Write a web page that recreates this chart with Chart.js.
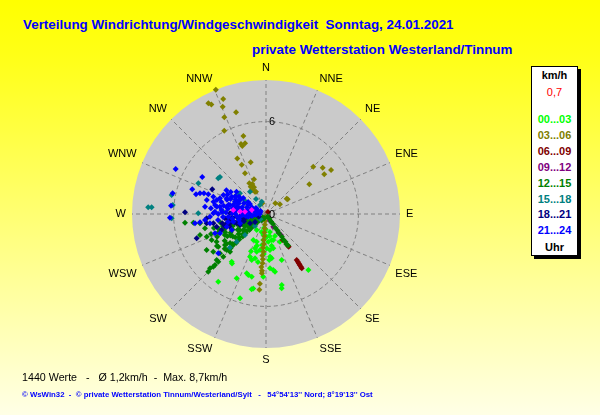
<!DOCTYPE html>
<html lang="de">
<head>
<meta charset="utf-8">
<title>Verteilung Windrichtung/Windgeschwindigkeit</title>
<script src="https://cdn.jsdelivr.net/npm/chart.js@4.4.1/dist/chart.umd.min.js"></script>
<style>
    html, body { margin: 0; padding: 0; }
    body {
        width: 600px; height: 415px; overflow: hidden; position: relative;
        background: linear-gradient(to bottom, #ffff00 0%, #ffff18 14%, #ffffe6 100%);
        font-family: "Liberation Sans", Arial, sans-serif;
    }
    .txt { position: absolute; white-space: pre; line-height: 16px; }
    .title { color: #0000ff; font-weight: bold; font-size: 13.4px; }
    #rose { position: absolute; left: 100px; top: 55px; }
    #legendBox {
        position: absolute; left: 531px; top: 66px; width: 47px; height: 190px;
        box-sizing: border-box; background: #fff; border: 1px solid #000;
        box-shadow: 3px 3px 0 #000;
    }
    .leg { position: absolute; left: 531px; width: 47px; text-align: center;
        font-size: 11px; font-weight: bold; line-height: 13px; }
    .foot1 { font-size: 10.7px; color: #000; line-height: 13px; }
    .foot2 { font-size: 7.8px; font-weight: bold; color: #0000ff; line-height: 9px; }
</style>
</head>
<body>
<div class="txt title" style="left:23px; top:17px;">Verteilung Windrichtung/Windgeschwindigkeit  Sonntag, 24.01.2021</div>
<div class="txt title" style="left:252px; top:42px;">private Wetterstation Westerland/Tinnum</div>
<canvas id="rose" width="332" height="318"></canvas>
<div id="legendBox"></div>
<div class="txt foot1" style="left:22px; top:371px;">1440 Werte   -   Ø 1,2km/h  -  Max. 8,7km/h</div>
<div class="txt foot2" style="left:22px; top:390px;">© WsWin32  -  © private Wetterstation Tinnum/Westerland/Sylt   -   54°54'13'' Nord; 8°19'13'' Ost</div>
<script>
const compassLabels = ['N', 'NNE', 'NE', 'ENE', 'E', 'ESE', 'SE', 'SSE',
    'S', 'SSW', 'SW', 'WSW', 'W', 'WNW', 'NW', 'NNW'];
const ringTicks = [0, 6];
const speedMax = 8.7;
const timeBins = ['00...03', '03...06', '06...09', '09...12', '12...15', '15...18', '18...21', '21...24'];
const binColors = ['#00ff00', '#808000', '#800000', '#800080', '#008000', '#008080', '#000080', '#0000ff'];

// [Richtung in Grad, Geschwindigkeit km/h]
const wind0003 = [[206, 1.88], [198.6, 1.9], [187.3, 1.38], [182.4, 1.58], [178.2, 1.47], [197.8, 2.34],
    [193.9, 2.52], [200.5, 2.96], [197.3, 3.13], [193.9, 2.96], [178.8, 2.23], [173.7, 2.35], [174.6, 2.79],
    [172.7, 2.9], [164.3, 1.75], [153.2, 2.01], [161.2, 3.16], [175.8, 3.53], [172.6, 3.67], [171.1, 3.79],
    [182.5, 4.08], [196.2, 4.12], [192.8, 4.18], [204.5, 4.59], [215.7, 3.82], [214.5, 3.9], [189.7, 4.9],
    [197.1, 5.73], [167.5, 4.72], [168.1, 4.93], [142.9, 4.56], [215.2, 5.38], [190.8, 4.97], [185.9, 1.69],
    [175.3, 1.81], [167.6, 1.73], [168, 2.28], [189.5, 2.37], [210.2, 1.2], [188.1, 0.92], [167.5, 1.19],
    [187.4, 2.03], [157.8, 1.55], [189.5, 3.16], [198, 4.05], [202, 2.6], [176, 3.0], [194, 1.2],
    [181, 1.0], [171, 1.45], [196, 2.15], [183, 2.6], [170, 2.1]];
const wind0306 = [[338, 8.7], [332.5, 8.1], [333.5, 7.95], [339.6, 7.97], [338, 7.51], [343.6, 6.88],
    [336.7, 6.84], [333.4, 6.05], [343.8, 5.27], [340.3, 4.82], [340.8, 4.68], [343.5, 4.79], [332.6, 4.05],
    [333.8, 3.57], [343.5, 3.5], [332.7, 2.97], [340.9, 2.38], [335.5, 2.14], [335.8, 1.9], [335.8, 1.58],
    [331.5, 2.27], [330.7, 2.03], [331, 1.78], [333.7, 1.62], [341, 0.73],
    [53.5, 1.67], [55.9, 1.7], [41, 0.92], [55.3, 1.1], [55.6, 3.41], [45, 4.34], [50.8, 4.75], [55.7, 4.58],
    [55.9, 5.1],
    [192, 0.2], [187, 0.45], [186, 0.7], [185, 0.95], [185, 1.2], [184, 1.45], [185, 1.7], [184, 1.95],
    [185, 2.2], [184, 2.45], [185, 2.7], [184, 2.95], [184, 3.2], [185, 3.45], [184, 3.7], [184, 3.85],
    [185, 4.55], [185, 4.94]];
const wind0609 = [[45, 0.18], [147.3, 2.01], [145.5, 2.48], [145.2, 2.58], [146.3, 3.59], [146.4, 3.73],
    [146.4, 3.86], [146.5, 3.97], [146.5, 4.1], [146.6, 4.22]];
const wind0912 = [[150, 0.5], [150.1, 0.95], [146, 1.45], [144.5, 1.68]];
const wind1215 = [[263.9, 5.29], [263.2, 4.75], [262, 4.33], [256.8, 4.07], [252.3, 4.5], [249, 4.12],
    [244.4, 3.91], [240.7, 3.68], [238.7, 4.51], [234.4, 4.21], [235.6, 3.75], [232.9, 3.34], [229.5, 3.93],
    [225, 3.92], [227, 4.38], [225, 4.38], [225, 4.68], [225, 4.84], [225.9, 5.06], [225, 5.3], [227.5, 3.46],
    [223.7, 3.38],
    [226, 0.3], [226, 0.6], [226, 0.9], [226.5, 1.2], [226, 1.5], [226.5, 1.8], [226, 2.1], [226.5, 2.4],
    [226, 2.7], [226.5, 3.0], [226, 3.2],
    [230, 0.6], [236, 0.9], [242, 0.7], [248, 1.0], [254, 0.8], [232, 1.4], [238, 1.2], [244, 1.5], [250, 1.3],
    [256, 1.6], [229, 2.0], [235, 1.8], [241, 2.1], [247, 1.9], [253, 2.2], [233, 2.5], [239, 2.7], [245, 2.4],
    [251, 2.8], [231, 3.0], [237, 3.2], [243, 3.0], [249, 3.3], [234, 2.2], [240, 1.6], [246, 2.9], [257, 2.5],
    [259, 3.0], [200, 0.3], [215, 0.5],
    [233, 0.5], [248, 0.5], [228, 0.8], [239, 0.8], [251, 0.8], [231, 1.1], [245, 1.1], [227, 1.4], [238, 1.4],
    [252, 1.4], [230, 1.7], [248, 1.7], [238, 2.0], [252, 2.0], [229, 2.3], [250, 2.3], [236, 2.6], [242, 2.6],
    [228, 2.9], [240, 2.9], [254, 2.9], [233, 3.2], [252, 3.2], [230, 3.5], [245, 3.5], [255, 3.5], [237, 3.8],
    [250, 3.8],
    [146, 0.2], [145, 0.4], [146, 0.6], [145, 0.8], [146, 1.1], [145, 1.3], [146, 1.5], [145, 1.8], [146, 2.0],
    [145, 2.2], [146, 2.35], [145, 2.5]];
const wind1518 = [[273.3, 7.66], [273.4, 7.44], [281.4, 6.25], [275.5, 6.08], [267.4, 6.13], [294.4, 4.82],
    [306.8, 3.87], [308.8, 3.83], [308.5, 2.16], [303, 2.27], [324.3, 1.78], [340.7, 0.84], [326.3, 0.7],
    [273.1, 2.78], [270.6, 4.4], [226.6, 2.62], [301.8, 1.6], [222.5, 1.06], [225, 1.93],
    [326.3, 1.17], [227, 0.5], [227, 3.2]];
const wind1821 = [[294.7, 3.84], [271.2, 5.26], [250.7, 4.77], [261.1, 3.9], [265.9, 3.86], [260, 3.47],
    [255.6, 3.31], [255.5, 2.42], [264.7, 1.91], [258.4, 1.39], [271.1, 2.34], [264, 2.68], [234, 0.88],
    [262.9, 1.05], [247, 1.83], [250.1, 3.06], [250, 0.5], [240, 1.2], [255, 2.1], [268, 1.6], [258, 2.9],
    [252, 1.5], [257, 1.6], [262, 1.8], [253, 2.0], [259, 2.3], [264, 2.2], [251, 2.5], [257, 2.6], [263, 2.5],
    [254, 2.8]];
const wind2124 = [[296.5, 6.55], [300.2, 4.79], [288.5, 5.05], [287.4, 4.49], [288.5, 4.25], [288.9, 3.96],
    [288.2, 3.6], [282.5, 6.21], [283.3, 3.95], [285.9, 3.32], [288.8, 3.16], [275, 6.19], [267.8, 6.24],
    [285.7, 4.72], [294, 3.03], [291.8, 2.75], [296.8, 2.49], [291.6, 2.17], [278.4, 3.23], [270.8, 3.42],
    [267.2, 3.64], [272.6, 3.32], [279, 3.03], [280.5, 2.6], [284, 1.96], [282.4, 1.73], [275.8, 1.48],
    [281.7, 1.28], [287.5, 0.86], [262.8, 4.32], [262.5, 4.65], [264.4, 3.98], [260.6, 3.69], [230.5, 4.01],
    [247.2, 3.24], [252.1, 2.68], [264, 1.69], [271.3, 2.01], [265.9, 2.45], [261.3, 1.16], [256.8, 2.18],
    [250.3, 1.79], [302, 1.23], [298.3, 1.92], [284, 2.41], [272.6, 2.86], [301, 0.76], [267.3, 1.36],
    [262.9, 3.14], [258.1, 2.52], [282, 1.86], [276.8, 3.99], [280, 3.36], [245, 2.45], [249.3, 3.54],
    [270, 0.6], [262, 0.9], [295, 1.0], [290, 1.3], [268, 1.5], [296, 1.6], [276, 2.0], [262, 2.2], [300, 2.3],
    [272, 2.6], [266, 2.8], [285, 3.0], [278, 1.1], [285, 0.5], [258, 1.8], [290, 2.7], [275, 2.9], [280, 2.2],
    [292, 2.0], [270, 3.1], [283, 3.5], [276, 3.6], [301, 3.0], [307, 2.4], [305, 1.8],
    [270, 0.4], [285, 0.4], [298, 0.4], [266, 0.7], [276, 0.7], [288, 0.7], [299, 0.7], [268, 1.0], [283, 1.0],
    [292, 1.0], [264, 1.3], [273, 1.3], [298, 1.3], [276, 1.6], [286, 1.6], [266, 1.9], [291, 1.9], [300, 1.9],
    [271, 2.2], [286, 2.2], [296, 2.2], [278, 2.5], [284, 2.5], [293, 2.5], [281, 2.8], [297, 2.8], [304, 1.4],
    [303, 2.1], [302, 2.7]];
const windMarked = [[277, 2.14], [276.3, 1.37], [285.6, 0.96], [275.6, 1.69]];

const binData = [wind0003, wind0306, wind0609, wind0912, wind1215, wind1518, wind1821, wind2124];

document.addEventListener('DOMContentLoaded', () => {
    // Legende rechts
    const legendItems = [['km/h', '#000', 75], ['0,7', '#ff0000', 92]];
    timeBins.forEach((label, i) => legendItems.push([label, binColors[i], 119.5 + i * 15.9]));
    legendItems.push(['Uhr', '#000', 247]);
    legendItems.forEach(([text, color, y], i) => {
        const el = document.createElement('div');
        el.className = 'leg';
        el.textContent = text;
        el.style.color = color;
        el.style.top = (y - 6.5) + 'px';
        if (i === 1) el.style.fontWeight = 'normal';
        document.body.appendChild(el);
    });

    const toXY = ([dir, speed]) => ({
        x: speed * Math.sin(dir * Math.PI / 180),
        y: speed * Math.cos(dir * Math.PI / 180)
    });

    const roseGrid = {
        id: 'roseGrid',
        beforeDatasetsDraw(chart) {
            const { ctx, scales: { x, y } } = chart;
            const cx = x.getPixelForValue(0);
            const cy = y.getPixelForValue(0);
            const rOf = v => x.getPixelForValue(v) - cx;
            const R = rOf(speedMax);
            ctx.save();
            ctx.beginPath();
            ctx.arc(cx, cy, R, 0, Math.PI * 2);
            ctx.fillStyle = '#cacaca';
            ctx.fill();

            ctx.strokeStyle = '#808080';
            ctx.lineWidth = 1;
            ctx.setLineDash([4, 3]);
            ringTicks.filter(t => t > 0).forEach(t => {
                ctx.beginPath();
                ctx.arc(cx, cy, rOf(t), 0, Math.PI * 2);
                ctx.stroke();
            });
            compassLabels.forEach((lbl, i) => {
                const a = i * Math.PI / 8;
                ctx.beginPath();
                ctx.moveTo(cx, cy);
                ctx.lineTo(cx + R * Math.sin(a), cy - R * Math.cos(a));
                ctx.stroke();
            });
            ctx.setLineDash([]);

            ctx.fillStyle = '#000';
            ctx.font = '11px "Liberation Sans", Arial, sans-serif';
            compassLabels.forEach((lbl, i) => {
                const a = i * Math.PI / 8;
                const s = Math.sin(a), c = Math.cos(a);
                const px = cx + (R + 6) * s;
                let py = cy - (R + 6) * c;
                ctx.textAlign = Math.abs(s) < 0.01 ? 'center' : (s > 0 ? 'left' : 'right');
                ctx.textBaseline = 'middle';
                if (c > 0.01) py -= 6;
                else if (c < -0.01) py += 6;
                ctx.fillText(lbl, px, py);
            });
            ctx.restore();
        },
        afterDatasetsDraw(chart) {
            const { ctx, scales: { x, y } } = chart;
            const cx = x.getPixelForValue(0);
            ctx.save();
            ctx.fillStyle = '#000';
            ctx.font = '11px "Liberation Sans", Arial, sans-serif';
            ctx.textAlign = 'left';
            ctx.textBaseline = 'middle';
            ringTicks.forEach(t => {
                ctx.fillText(String(t), cx + 3, y.getPixelForValue(t) + 0.5);
            });
            ctx.restore();
        }
    };

    const datasets = binData.map((pts, i) => ({
        label: timeBins[i],
        data: pts.map(toXY),
        backgroundColor: binColors[i],
        order: 10 - i
    }));
    datasets.push({ label: '', data: windMarked.map(toXY), backgroundColor: '#ff00ff', order: 1 });

    const roseCtx = document.getElementById('rose').getContext('2d');
    new Chart(roseCtx, {
        type: 'scatter',
        data: { datasets },
        options: {
            responsive: false,
            animation: false,
            layout: { padding: { left: 32, right: 32, top: 25, bottom: 25 } },
            scales: {
                x: { type: 'linear', min: -speedMax, max: speedMax, display: false },
                y: { type: 'linear', min: -speedMax, max: speedMax, display: false }
            },
            elements: {
                point: { pointStyle: 'rectRot', radius: 3, borderWidth: 0, hoverRadius: 3 }
            },
            plugins: {
                legend: { display: false },
                tooltip: { enabled: false }
            }
        },
        plugins: [roseGrid]
    });
});
</script>
</body>
</html>
